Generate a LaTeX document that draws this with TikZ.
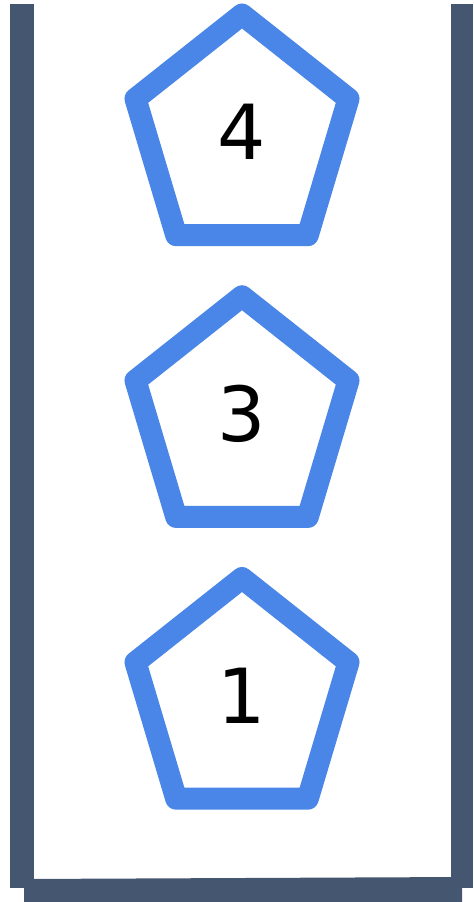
\documentclass[tikz,border=0pt]{standalone}
\usepackage{fontspec}
\setmainfont{DejaVu Sans}
\definecolor{stackgray}{HTML}{455670}
\definecolor{itemblue}{HTML}{4A86E8}
\tikzset{stackwall/.style={fill=stackgray, draw=none},
  itemedge/.style={draw=itemblue, line width=11pt, line join=round},
  itemlabel/.style={font=\fontsize{38}{40}\selectfont, inner sep=0pt},
  stack/.style={x=0.5pt, y=-0.5pt}}

\begin{document}
\begin{tikzpicture}[stack]
    \useasboundingbox (0,0) rectangle (473,902);
    \fill[white] (0,0) rectangle (473,902);
    % walls of the stack
    \fill[stackwall] (10,4) rectangle (34,888);
    \fill[stackwall] (451,4) rectangle (473,888);
    \fill[stackwall] (24,879) -- (462,877) -- (462,902) -- (24,902) -- cycle;
    % items, top to bottom
    \foreach \num/\cy in {4/136.5, 3/418.25, 1/700} {
      \coordinate (c\num) at (242,\cy);
      \draw[itemedge] (c\num) +(0,-122) -- +(-106.5,-37.7) -- +(-65.8,98.7)
        -- +(65.8,98.7) -- +(106.5,-37.7) -- cycle;
      \node[itemlabel] (item\num) at (242,\cy-4.5) {\num};
    }
  \end{tikzpicture}
\end{document}
